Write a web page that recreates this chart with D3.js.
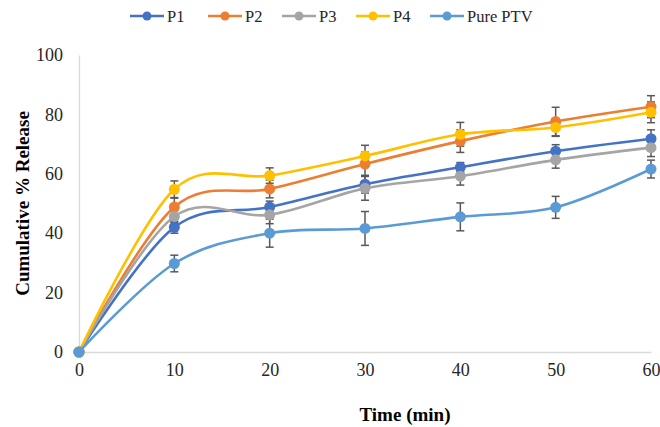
<!DOCTYPE html>
<html>
<head>
<meta charset="utf-8">
<script src="https://cdn.jsdelivr.net/npm/d3@7"></script>
<style>
  body { margin: 0; background: #fff; }
  svg text { font-family: "Times New Roman", Times, "Liberation Serif", "DejaVu Serif", serif !important; }
</style>
</head>
<body>
<div id="chart"></div>
<script>
// Release data
const times = [0, 10, 20, 30, 40, 50, 60];
const seriesNames = ['P1', 'P2', 'P3', 'P4', 'Pure PTV'];
const seriesColors = ['#4472C4', '#ED7D31', '#A5A5A5', '#FFC000', '#5B9BD5'];
const p1 = [0, 42.0, 48.8, 56.5, 62.2, 67.6, 71.8];
const p2 = [0, 48.8, 54.9, 63.3, 71.0, 77.6, 82.6];
const p3 = [0, 45.6, 46.2, 55.1, 59.2, 64.7, 68.8];
const p4 = [0, 54.8, 59.4, 66.0, 73.3, 75.6, 80.7];
const pure = [0, 29.8, 40.0, 41.6, 45.5, 48.7, 61.6];
const p1Err = [0, 2.0, 2.0, 3.0, 1.6, 2.2, 3.0];
const p2Err = [0, 3.0, 3.0, 4.0, 3.8, 4.8, 3.7];
const p3Err = [0, 2.0, 3.0, 4.0, 3.0, 2.8, 3.0];
const p4Err = [0, 2.8, 2.6, 3.6, 4.0, 3.0, 3.5];
const pureErr = [0, 2.8, 4.7, 5.7, 4.7, 3.7, 3.0];
const xTicks = [0, 10, 20, 30, 40, 50, 60];
const yTicks = [0, 20, 40, 60, 80, 100];

const allValues = [p1, p2, p3, p4, pure];
const allErrors = [p1Err, p2Err, p3Err, p4Err, pureErr];

const width = 660, height = 427;
const margin = {top: 55, right: 9, bottom: 75, left: 79};
const serif = '"Times New Roman", Times, "Liberation Serif", serif';

const svg = d3.select('#chart')
  .append('svg')
  .attr('width', width)
  .attr('height', height);

const xScale = d3.scaleLinear().domain([0, 60]).range([margin.left, width - margin.right]);
const yScale = d3.scaleLinear().domain([0, 100]).range([height - margin.bottom, margin.top]);

// Axes: light gray lines, no ticks
const xAxis = svg.append('g')
  .attr('transform', `translate(0,${yScale(0)})`)
  .call(d3.axisBottom(xScale).tickValues(xTicks).tickSize(0).tickPadding(11));
const yAxis = svg.append('g')
  .attr('transform', `translate(${margin.left},0)`)
  .call(d3.axisLeft(yScale).tickValues(yTicks).tickSize(0).tickPadding(16));
[xAxis, yAxis].forEach(g => {
  g.attr('font-family', serif);
  g.select('.domain').attr('stroke', '#D9D9D9').attr('stroke-width', 1.3);
  g.selectAll('text')
    .attr('font-size', 18)
    .attr('fill', '#262626');
});

// Axis titles
svg.append('text')
  .attr('x', 405)
  .attr('y', 421)
  .attr('text-anchor', 'middle')
  .attr('font-size', 19)
  .attr('font-weight', 'bold')
  .attr('fill', '#000')
  .text('Time (min)');
svg.append('text')
  .attr('transform', `translate(29,${(yScale(0) + yScale(100)) / 2}) rotate(-90)`)
  .attr('text-anchor', 'middle')
  .attr('font-size', 19)
  .attr('font-weight', 'bold')
  .attr('fill', '#000')
  .text('Cumulative % Release');

// Error bars
const cap = 4;
allValues.forEach((vals, s) => {
  const g = svg.append('g').attr('class', 'errbars');
  vals.forEach((v, i) => {
    const e = allErrors[s][i];
    if (!e) return;
    const x = xScale(times[i]);
    const y1 = yScale(v + e), y2 = yScale(v - e);
    g.append('line').attr('x1', x).attr('x2', x).attr('y1', y1).attr('y2', y2);
    g.append('line').attr('x1', x - cap).attr('x2', x + cap).attr('y1', y1).attr('y2', y1);
    g.append('line').attr('x1', x - cap).attr('x2', x + cap).attr('y1', y2).attr('y2', y2);
  });
  g.selectAll('line').attr('stroke', '#595959').attr('stroke-width', 1.5);
});

// Smoothed lines + markers
const line = d3.line()
  .x((d, i) => xScale(times[i]))
  .y(d => yScale(d))
  .curve(d3.curveCatmullRom.alpha(0));

allValues.forEach((vals, s) => {
  svg.append('path')
    .datum(vals)
    .attr('d', line)
    .attr('fill', 'none')
    .attr('stroke', seriesColors[s])
    .attr('stroke-width', 2.6);
});
allValues.forEach((vals, s) => {
  svg.selectAll('circle.s' + s)
    .data(vals)
    .enter().append('circle')
    .attr('class', 's' + s)
    .attr('cx', (d, i) => xScale(times[i]))
    .attr('cy', d => yScale(d))
    .attr('r', 5.5)
    .attr('fill', seriesColors[s]);
});

// Legend
const legendX = [130, 208, 282, 356, 430];
const legend = svg.append('g').attr('transform', 'translate(0,16)');
seriesNames.forEach((name, s) => {
  const x = legendX[s];
  legend.append('line')
    .attr('x1', x).attr('x2', x + 34)
    .attr('y1', 0).attr('y2', 0)
    .attr('stroke', seriesColors[s])
    .attr('stroke-width', 2.6);
  legend.append('circle')
    .attr('cx', x + 17).attr('cy', 0).attr('r', 4.5)
    .attr('fill', seriesColors[s]);
  legend.append('text')
    .attr('x', x + 37).attr('y', 6)
    .attr('font-size', 16.5)
    .attr('fill', '#262626')
    .text(name);
});
</script>
</body>
</html>
